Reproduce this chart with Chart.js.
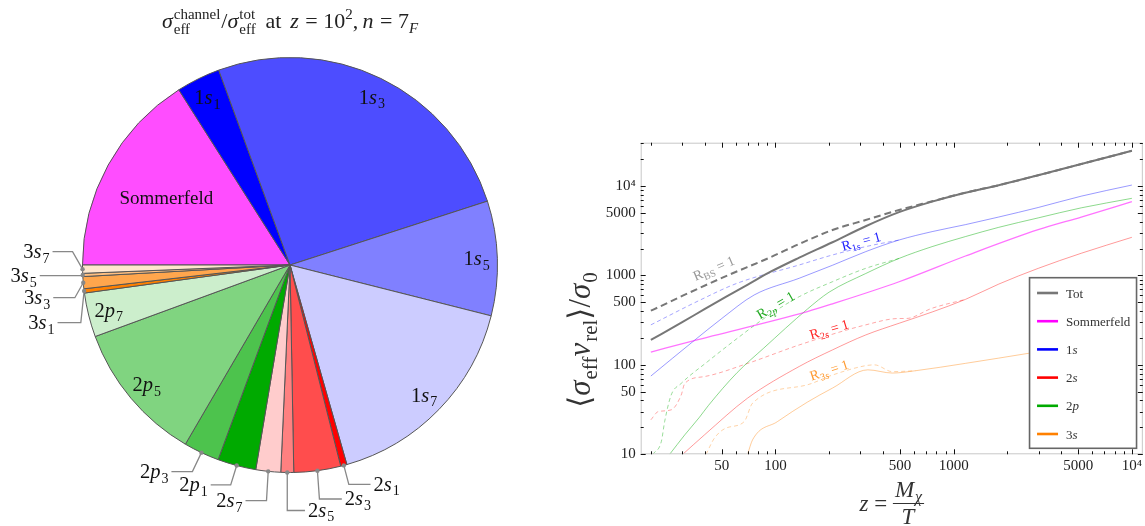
<!DOCTYPE html>
<html>
<head>
<meta charset="utf-8">
<script src="https://cdn.jsdelivr.net/npm/chart.js@4.4.1/dist/chart.umd.min.js"></script>
<style>
  html, body { margin: 0; padding: 0; background: #fff; overflow: hidden; }
  #pie { position: absolute; left: 0; top: 0; }
  #lines { position: absolute; left: 560px; top: 0; }
</style>
</head>
<body>
<canvas id="pie" width="560" height="526"></canvas>
<canvas id="lines" width="585" height="526"></canvas>
<script>
// ---------- pie: share of each channel at z = 100 (percent) ----------
const channels = ['Sommerfeld', '1s1', '1s3', '1s5', '1s7', '2s1', '2s3', '2s5', '2s7',
                  '2p1', '2p3', '2p5', '2p7', '3s1', '3s3', '3s5', '3s7'];
const fractions = [16.0, 3.42, 25.6, 8.92, 16.64, 0.49, 3.64, 1.0, 1.93,
                   2.99, 2.78, 10.99, 3.44, 0.33, 0.94, 0.25, 0.64];
const sliceColors = ['#ff4dff', '#0000ff', '#4d4dff', '#8080ff', '#ccccff',
                     '#ff0000', '#ff4d4d', '#ff8080', '#ffcccc',
                     '#00aa00', '#4dc34d', '#80d480', '#cceecc',
                     '#ff8000', '#ffa64d', '#ffbf80', '#ffe6cc'];

// ---------- right panel: <sigma v>/sigma0 against z ----------
const totZ = [20, 30, 40, 53, 70, 94, 136, 209, 321, 494, 757, 1165, 1790, 2980, 5200, 10000];
const totV = [190, 300, 420, 580, 790, 1100, 1580, 2350, 3550, 5100, 6690, 8410, 10200, 13200, 17600, 24800];
const rbsZ = [20, 22, 30, 52, 94, 136, 209, 321, 494, 757, 1165, 1790, 2980, 5200, 10000];
const rbsV = [404, 440, 590, 970, 1600, 2250, 3220, 4170, 5400, 6750, 8430, 10200, 13200, 17600, 24800];
const somZ = [20, 35, 151, 209, 494, 1165, 2980, 5200, 10000];
const somV = [139, 187, 394, 481, 850, 1650, 3250, 4500, 6680];
const s1Z = [20, 35, 50, 76, 136, 209, 321, 494, 757, 1165, 1790, 2980, 5200, 10000];
const s1V = [75, 187, 330, 605, 930, 1300, 1845, 2490, 3090, 3700, 4500, 5750, 7700, 10250];
const r1sZ = [20, 37, 61, 136, 209, 321, 494];
const r1sV = [280, 520, 818, 1310, 1694, 2100, 2490];
const p2Z = [25.5, 31, 37.5, 42, 61, 86, 151, 200, 321, 494, 757, 1165, 1790, 2980, 5200, 10000];
const p2V = [10, 16.5, 26, 35, 82, 154, 420, 650, 1050, 1550, 2100, 2720, 3450, 4400, 5700, 7280];
const r2pZ = [20.5, 22.9, 23.9, 26, 29.6, 41.7, 61.3, 86.5, 136, 209, 321, 494];
const r2pV = [10, 13.9, 23.2, 46, 62, 109, 199, 331, 579, 851, 1200, 1550];
const s2Z = [30.2, 40, 69.8, 136, 209, 321, 494, 757, 1165, 1790, 2980, 5200, 10000];
const s2V = [10, 16.5, 42.5, 96, 147, 216, 292, 390, 540, 800, 1200, 1770, 2670];
const r2sZ = [20, 22, 26, 29.6, 31, 40, 70, 136, 321, 494, 540, 757, 1165];
const r2sV = [24.3, 30, 31.4, 46, 62, 74, 104, 167, 280, 330, 330, 430, 540];
const s3Z = [69.8, 74.4, 102.6, 151, 209, 330, 453, 611, 1165, 1790, 2650, 5200, 10000];
const s3V = [10, 14.5, 23.2, 38.3, 55, 88, 81, 86, 104, 119, 135, 170, 210];
const r3sZ = [40.8, 45.5, 52.7, 66.8, 74.4, 151, 209, 321, 360, 453, 611];
const r3sV = [10, 15.2, 19.6, 23.2, 37.3, 59.8, 77, 98, 100, 84, 86];

const xTickLabels = [50, 100, 500, 1000, 5000, 10000];
const yTickLabels = [10, 50, 100, 500, 1000, 5000, 10000];
const legendNames = ['Tot', 'Sommerfeld', '1s', '2s', '2p', '3s'];

// ---------- text helpers (serif, with italics and sub/superscripts) ----------
const SERIF = '"Liberation Serif", "DejaVu Serif", serif';
function fnt(size, italic) { return (italic ? 'italic ' : '') + size + 'px ' + SERIF; }

function tokWidth(ctx, p, size) {
  const small = Math.round(size * 0.68);
  if (p.ss) {
    ctx.font = fnt(small, false);
    return Math.max(ctx.measureText(p.ss[0]).width, ctx.measureText(p.ss[1]).width) + 1;
  }
  if (p.gap) return p.gap * size;
  ctx.font = fnt(p.sub || p.sup ? small : size, p.i);
  return ctx.measureText(p.t).width + (p.i && !p.sub ? 1 : 0);
}

function drawRich(ctx, parts, x, y, size, align) {
  let w = 0;
  parts.forEach(p => { w += tokWidth(ctx, p, size); });
  let cx = align === 'right' ? x - w : align === 'center' ? x - w / 2 : x;
  const small = Math.round(size * 0.68);
  ctx.textAlign = 'left';
  ctx.textBaseline = 'alphabetic';
  parts.forEach(p => {
    if (p.gap) {
      // plain space
    } else if (p.ss) {
      ctx.font = fnt(small, false);
      ctx.fillText(p.ss[0], cx, y + size * 0.25);
      ctx.fillText(p.ss[1], cx, y - size * 0.42);
    } else if (p.sub) {
      ctx.font = fnt(small, p.i);
      ctx.fillText(p.t, cx, y + size * 0.22);
    } else if (p.sup) {
      ctx.font = fnt(small, p.i);
      ctx.fillText(p.t, cx, y - size * 0.4);
    } else {
      ctx.font = fnt(size, p.i);
      ctx.fillText(p.t, cx, y);
    }
    cx += tokWidth(ctx, p, size);
  });
  return w;
}

function stateTokens(name) {
  const m = /^(\d)([sp])(\d?)$/.exec(name);
  if (!m) return [{t: name}];
  const out = [{t: m[1]}, {t: m[2], i: true}];
  if (m[3]) out.push({t: m[3], sub: true});
  return out;
}

// ---------- pie labels ----------
const insideRadius = {'Sommerfeld': 0.68, '1s1': 0.9, '1s3': 0.9, '1s5': 0.9, '1s7': 0.9, '2p5': 0.9, '2p7': 0.9};
// callout: [elbow dx, elbow dy, horizontal run] from the rim dot
const callouts = {
  '3s7': [-10, -17.6, -20], '3s5': [0, 0.7, -43], '3s3': [-8.4, 15, -21.6], '3s1': [-3.3, 31.7, -23.3],
  '2p3': [-9, 19, -21], '2p1': [-6, 19.3, -20], '2s7': [-1.7, 29.3, -21],
  '2s5': [0, 38, 17.7], '2s3': [2, 28.3, 22.4], '2s1': [5, 19, 21.7]
};

const pieLabels = {
  id: 'pieLabels',
  afterDatasetsDraw(chart) {
    const ctx = chart.ctx;
    const arcs = chart.getDatasetMeta(0).data;
    ctx.save();
    arcs.forEach((arc, i) => {
      const name = channels[i];
      const {x, y, startAngle, endAngle, outerRadius} = arc.getProps(['x', 'y', 'startAngle', 'endAngle', 'outerRadius'], true);
      const mid = (startAngle + endAngle) / 2;
      if (insideRadius[name]) {
        const r = outerRadius * insideRadius[name];
        const px = x + Math.cos(mid) * r, py = y + Math.sin(mid) * r;
        ctx.fillStyle = '#111';
        drawRich(ctx, stateTokens(name), px, py + 6.5, name === 'Sommerfeld' ? 19 : 20.5, 'center');
      } else if (callouts[name]) {
        const c = callouts[name];
        const dx = x + Math.cos(mid) * outerRadius, dy = y + Math.sin(mid) * outerRadius;
        const ex = dx + c[0], ey = dy + c[1], fx = ex + c[2];
        ctx.strokeStyle = '#888';
        ctx.lineWidth = 1.3;
        ctx.beginPath();
        ctx.moveTo(dx, dy); ctx.lineTo(ex, ey); ctx.lineTo(fx, ey);
        ctx.stroke();
        ctx.fillStyle = '#888';
        ctx.beginPath(); ctx.arc(dx, dy, 2.2, 0, Math.PI * 2); ctx.fill();
        ctx.fillStyle = '#111';
        if (c[2] < 0) drawRich(ctx, stateTokens(name), fx - 3, ey + 6.5, 20.5, 'right');
        else drawRich(ctx, stateTokens(name), fx + 3, ey + 6.5, 20.5, 'left');
      }
    });
    // title
    ctx.fillStyle = '#222';
    drawRich(ctx, [{t: 'σ', i: true}, {ss: ['eff', 'channel']}, {t: '/'}, {t: 'σ', i: true}, {ss: ['eff', 'tot']},
                   {gap: 0.4}, {t: 'at'}, {gap: 0.4}, {t: 'z', i: true}, {gap: 0.25}, {t: '='}, {gap: 0.25}, {t: '10'},
                   {t: '2', sup: true}, {t: ','}, {gap: 0.2}, {t: 'n', i: true}, {gap: 0.25}, {t: '='}, {gap: 0.25},
                   {t: '7'}, {t: 'F', sub: true, i: true}],
             (chart.chartArea.left + chart.chartArea.right) / 2, 28, 22, 'center');
    ctx.restore();
  }
};

new Chart(document.getElementById('pie'), {
  type: 'pie',
  data: {
    labels: channels,
    datasets: [{ data: fractions, backgroundColor: sliceColors, borderColor: '#555', borderWidth: 1 }]
  },
  options: {
    responsive: false,
    animation: false,
    rotation: -90,
    layout: { padding: { left: 82, right: 62, top: 57, bottom: 53 } },
    plugins: { legend: { display: false }, tooltip: { enabled: false } }
  },
  plugins: [pieLabels]
});

// ---------- line chart ----------
function pts(zs, vs) { return zs.map((z, i) => ({x: z, y: vs[i]})); }

const series = [
  { label: 'Tot', data: pts(totZ, totV), color: '#777', width: 2, dash: [] },
  { label: 'RBS', data: pts(rbsZ, rbsV), color: '#777', width: 2, dash: [7, 4] },
  { label: 'Sommerfeld', data: pts(somZ, somV), color: 'rgba(255,0,255,0.55)', width: 1.3, dash: [] },
  { label: '1s', data: pts(s1Z, s1V), color: 'rgba(30,30,255,0.45)', width: 1, dash: [] },
  { label: 'R1s', data: pts(r1sZ, r1sV), color: 'rgba(30,30,255,0.4)', width: 1, dash: [4, 3] },
  { label: '2p', data: pts(p2Z, p2V), color: 'rgba(0,170,0,0.45)', width: 1, dash: [] },
  { label: 'R2p', data: pts(r2pZ, r2pV), color: 'rgba(0,170,0,0.4)', width: 1, dash: [4, 3] },
  { label: '2s', data: pts(s2Z, s2V), color: 'rgba(255,0,0,0.4)', width: 1, dash: [] },
  { label: 'R2s', data: pts(r2sZ, r2sV), color: 'rgba(255,0,0,0.35)', width: 1, dash: [4, 3] },
  { label: '3s', data: pts(s3Z, s3V), color: 'rgba(255,128,0,0.4)', width: 1, dash: [] },
  { label: 'R3s', data: pts(r3sZ, r3sV), color: 'rgba(255,128,0,0.35)', width: 1, dash: [4, 3] }
];

const legendColors = {'Tot': '#777', 'Sommerfeld': '#ff00ff', '1s': '#0000ff', '2s': '#ff0000', '2p': '#00aa00', '3s': '#ff8000'};

const curveLabels = [
  { tokens: [{t: 'R'}, {t: 'BS', sub: true}, {t: ' = 1'}], z: 45, v: 1213, angle: -23, color: '#9a9a9a' },
  { tokens: [{t: 'R'}, {t: '1', sub: true}, {t: 's', sub: true, i: true}, {t: ' = 1'}], z: 302, v: 2430, angle: -15, color: '#2222ff' },
  { tokens: [{t: 'R'}, {t: '2', sub: true}, {t: 'p', sub: true, i: true}, {t: ' = 1'}], z: 100, v: 469, angle: -30, color: '#22aa22' },
  { tokens: [{t: 'R'}, {t: '2', sub: true}, {t: 's', sub: true, i: true}, {t: ' = 1'}], z: 200, v: 252, angle: -17, color: '#ff2222' },
  { tokens: [{t: 'R'}, {t: '3', sub: true}, {t: 's', sub: true, i: true}, {t: ' = 1'}], z: 200, v: 88, angle: -18, color: '#ff9a30' }
];

const decor = {
  id: 'decor',
  afterDraw(chart) {
    const {ctx, chartArea: a, scales: {x, y}} = chart;
    ctx.save();
    // frame
    ctx.strokeStyle = '#c8c8c8';
    ctx.lineWidth = 1;
    ctx.strokeRect(a.left + 0.5, a.top + 0.5, a.right - a.left - 1, a.bottom - a.top - 1);
    // inward tick marks on all four sides
    ctx.strokeStyle = '#111';
    ctx.beginPath();
    for (let e = 1; e <= 4; e++) {
      for (let s = 1; s <= 9; s++) {
        const v = s * Math.pow(10, e);
        if (v >= x.min && v <= x.max) {
          const px = Math.round(x.getPixelForValue(v)) + 0.5;
          const len = xTickLabels.includes(v) ? 5 : 3;
          ctx.moveTo(px, a.bottom); ctx.lineTo(px, a.bottom - len);
          ctx.moveTo(px, a.top); ctx.lineTo(px, a.top + len);
        }
        if (v >= y.min && v <= y.max) {
          const py = Math.round(y.getPixelForValue(v)) + 0.5;
          const len = yTickLabels.includes(v) ? 5 : 3;
          ctx.moveTo(a.left, py); ctx.lineTo(a.left + len, py);
          ctx.moveTo(a.right, py); ctx.lineTo(a.right - len, py);
        }
      }
    }
    ctx.stroke();

    // labels along the R = 1 curves
    curveLabels.forEach(l => {
      ctx.save();
      ctx.translate(x.getPixelForValue(l.z), y.getPixelForValue(l.v));
      ctx.rotate(l.angle * Math.PI / 180);
      ctx.fillStyle = l.color;
      drawRich(ctx, l.tokens, 0, 5, 14, 'center');
      ctx.restore();
    });

    // legend box
    const bw = 107, bh = 170.6;
    const bx = a.right - 6.3 - bw, by = a.bottom - 6 - bh;
    ctx.fillStyle = '#fff';
    ctx.fillRect(bx, by, bw, bh);
    ctx.strokeStyle = '#666';
    ctx.lineWidth = 1.6;
    ctx.strokeRect(bx, by, bw, bh);
    legendNames.forEach((name, i) => {
      const ly = by + 15.3 + i * 28.2;
      ctx.strokeStyle = legendColors[name];
      ctx.lineWidth = 2.6;
      ctx.beginPath(); ctx.moveTo(bx + 7.5, ly); ctx.lineTo(bx + 28.5, ly); ctx.stroke();
      ctx.fillStyle = '#333';
      drawRich(ctx, stateTokens(name), bx + 36.5, ly + 4.5, 13, 'left');
    });

    // axis titles
    ctx.fillStyle = '#333';
    ctx.save();
    ctx.translate(30, 340);
    ctx.rotate(-Math.PI / 2);
    drawRich(ctx, [{t: '⟨'}, {t: 'σ', i: true}, {t: 'eff', sub: true}, {t: 'v', i: true}, {t: 'rel', sub: true},
                   {t: '⟩'}, {t: '/'}, {t: 'σ', i: true}, {t: '0', sub: true}], 0, 0, 31, 'center');
    ctx.restore();

    const cxm = (a.left + a.right) / 2;
    const fs = 23;
    ctx.font = fnt(fs, true);
    const wz = ctx.measureText('z').width;
    ctx.font = fnt(fs, false);
    const weq = ctx.measureText(' = ').width;
    ctx.font = fnt(fs, true);
    const wm = ctx.measureText('M').width;
    ctx.font = fnt(Math.round(fs * 0.68), true);
    const wchi = ctx.measureText('χ').width;
    const wfrac = wm + wchi + 5;
    const total = wz + weq + wfrac;
    let sx = cxm - total / 2;
    const base = 511;
    ctx.font = fnt(fs, true); ctx.textAlign = 'left'; ctx.fillText('z', sx, base);
    sx += wz;
    ctx.font = fnt(fs, false); ctx.fillText(' = ', sx, base);
    sx += weq;
    ctx.strokeStyle = '#333'; ctx.lineWidth = 1.2;
    ctx.beginPath(); ctx.moveTo(sx, 503.5); ctx.lineTo(sx + wfrac, 503.5); ctx.stroke();
    drawRich(ctx, [{t: 'M', i: true}, {t: 'χ', sub: true, i: true}], sx + wfrac / 2, 497, fs, 'center');
    drawRich(ctx, [{t: 'T', i: true}], sx + wfrac / 2, 524, fs, 'center');
    ctx.restore();
  }
};

new Chart(document.getElementById('lines'), {
  type: 'line',
  data: {
    datasets: series.map(s => ({
      label: s.label,
      data: s.data,
      borderColor: s.color,
      borderWidth: s.width,
      borderDash: s.dash,
      pointRadius: 0,
      fill: false,
      cubicInterpolationMode: 'monotone'
    }))
  },
  options: {
    responsive: false,
    animation: false,
    layout: { padding: { top: 142.7, right: 0, left: 0, bottom: 0 } },
    plugins: { legend: { display: false }, tooltip: { enabled: false } },
    scales: {
      x: {
        type: 'logarithmic',
        min: 17.54,
        max: 11520,
        afterBuildTicks: s => { s.ticks = xTickLabels.map(v => ({value: v})); },
        afterFit: s => { s.height = 71.7; },
        grid: { display: false, drawTicks: false },
        border: { display: false },
        ticks: {
          callback: v => v === 10000 ? '10⁴' : String(v),
          font: { family: SERIF, size: 15 },
          color: '#222',
          padding: 3,
          maxRotation: 0,
          autoSkip: false
        }
      },
      y: {
        type: 'logarithmic',
        min: 10,
        max: 30500,
        afterBuildTicks: s => { s.ticks = yTickLabels.map(v => ({value: v})); },
        afterFit: s => { s.width = 80.7; },
        grid: { display: false, drawTicks: false },
        border: { display: false },
        ticks: {
          callback: v => v === 10000 ? '10⁴' : String(v),
          font: { family: SERIF, size: 15 },
          color: '#222',
          padding: 5,
          autoSkip: false
        }
      }
    }
  },
  plugins: [decor]
});
</script>
</body>
</html>
